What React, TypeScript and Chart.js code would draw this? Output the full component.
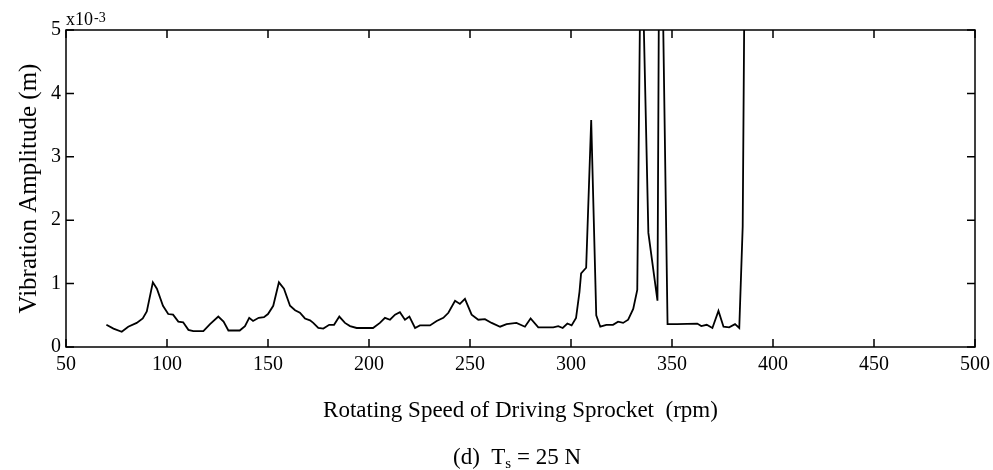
import { useEffect, useRef } from "react";
import { Chart, registerables } from "chart.js";

Chart.register(...registerables);

const FONT = '"Liberation Serif", "Times New Roman", serif';

const rpm = [
  70, 73.5, 77.6, 80.8, 85, 88, 90, 93, 95, 98, 100.6, 103, 105.6, 108, 110.6, 113, 118,
  121.3, 125.4, 128, 130.4, 136, 138.6, 140.7, 142.6, 145.4, 148, 150, 152.6, 155.4, 157.9,
  160.9, 163.4, 165.8, 168.3, 170.8, 172.4, 174.9, 177.4, 180.3, 182.7, 185.3, 188.1, 190.6,
  193.9, 202, 205.4, 207.9, 210.4, 212.9, 215.3, 217.8, 220, 222.8, 225.2, 230.2, 233.5,
  236.8, 239.3, 242.6, 245, 247.5, 250.8, 254.1, 257.4, 260.7, 264.9, 268.1, 273, 277.2, 280,
  283.8, 291.2, 293.7, 295.9, 298.2, 300.3, 302.5, 304.2, 305, 307.5, 310, 312.5, 314.5,
  317.5, 320.8, 323.3, 325.8, 328.3, 330.8, 332.8, 334.2, 335.8, 338.3, 342.8, 343.5, 345.5,
  347.8, 352.5, 362.5, 364.5, 367.2, 370, 373, 375.5, 378.3, 381.2, 383.3, 385, 385.8,
];

const amplitude = [
  0.35, 0.29, 0.24, 0.32, 0.38, 0.45, 0.56, 1.02, 0.92, 0.65, 0.52, 0.51, 0.4, 0.39, 0.27, 0.25, 0.25,
  0.36, 0.48, 0.4, 0.26, 0.26, 0.33, 0.46, 0.41, 0.46, 0.47, 0.52, 0.65, 1.02, 0.92,
  0.65, 0.58, 0.54, 0.45, 0.42, 0.38, 0.3, 0.29, 0.35, 0.35, 0.48, 0.38, 0.33,
  0.3, 0.3, 0.38, 0.46, 0.43, 0.51, 0.55, 0.43, 0.48, 0.3, 0.34, 0.34, 0.41,
  0.46, 0.54, 0.73, 0.68, 0.76, 0.51, 0.43, 0.44, 0.38, 0.32, 0.36, 0.38, 0.32, 0.45,
  0.31, 0.31, 0.33, 0.3, 0.37, 0.34, 0.46, 0.87, 1.16, 1.25, 3.58, 0.5, 0.32,
  0.35, 0.35, 0.4, 0.38, 0.43, 0.6, 0.9, 5.4, 5.4, 1.8, 0.73, 5.4, 5.4,
  0.36, 0.36, 0.37, 0.33, 0.35, 0.3, 0.57, 0.32, 0.31, 0.36, 0.3, 1.9, 5.4,
];

const xTicks = [50, 100, 150, 200, 250, 300, 350, 400, 450, 500];
const yTicks = [0, 1, 2, 3, 4, 5];

const xTitle = "Rotating Speed of Driving Sprocket  (rpm)";
const yTitle = "Vibration Amplitude (m)";
const unitBase = "x10";
const unitExp = "-3";
const captionPre = "(d)  T";
const captionSub = "s";
const captionPost = " = 25 N";

const framePlugin = {
  id: "frame",
  afterDatasetsDraw(chart: any) {
    const { ctx, chartArea, scales } = chart;
    const { left, right, top, bottom } = chartArea;
    const x = scales.x;
    const y = scales.y;
    ctx.save();
    ctx.strokeStyle = "#000";
    ctx.lineWidth = 1.5;
    ctx.strokeRect(left, top, right - left, bottom - top);
    ctx.beginPath();
    const tl = 8;
    xTicks.forEach((v) => {
      const px = x.getPixelForValue(v);
      ctx.moveTo(px, bottom);
      ctx.lineTo(px, bottom - tl);
      ctx.moveTo(px, top);
      ctx.lineTo(px, top + tl);
    });
    yTicks.forEach((v) => {
      const py = y.getPixelForValue(v);
      ctx.moveTo(left, py);
      ctx.lineTo(left + tl, py);
      ctx.moveTo(right, py);
      ctx.lineTo(right - tl, py);
    });
    ctx.stroke();

    ctx.fillStyle = "#000";
    ctx.textAlign = "left";
    ctx.textBaseline = "alphabetic";
    ctx.font = `18px ${FONT}`;
    ctx.fillText(unitBase, left, top - 5);
    const wb = ctx.measureText(unitBase).width;
    ctx.font = `14px ${FONT}`;
    ctx.fillText(unitExp, left + wb + 1, top - 8);

    // caption
    const cx = 517;
    const cy = 464;
    ctx.font = `23px ${FONT}`;
    const w1 = ctx.measureText(captionPre).width;
    const w3 = ctx.measureText(captionPost).width;
    ctx.font = `15px ${FONT}`;
    const w2 = ctx.measureText(captionSub).width;
    const total = w1 + w2 + w3;
    let sx = cx - total / 2;
    ctx.font = `23px ${FONT}`;
    ctx.fillText(captionPre, sx, cy);
    sx += w1;
    ctx.font = `15px ${FONT}`;
    ctx.fillText(captionSub, sx, cy + 4);
    sx += w2;
    ctx.font = `23px ${FONT}`;
    ctx.fillText(captionPost, sx, cy);
    ctx.restore();
  },
};

export default function App() {
  const ref = useRef<HTMLCanvasElement>(null);
  useEffect(() => {
    document.body.style.margin = "0";
    const data = rpm.map((r, i) => ({ x: r, y: amplitude[i] }));
    const chart = new Chart(ref.current!, {
      type: "line",
      data: {
        datasets: [
          {
            data,
            borderColor: "#000",
            borderWidth: 1.8,
            pointRadius: 0,
            tension: 0,
            fill: false,
            clip: 0,
          } as any,
        ],
      },
      options: {
        responsive: false,
        animation: false,
        layout: { padding: { left: 0, top: 30, right: 18, bottom: 0 } },
        plugins: { legend: { display: false }, tooltip: { enabled: false } },
        scales: {
          x: {
            type: "linear",
            min: 50,
            max: 500,
            afterBuildTicks: (s: any) => {
              s.ticks = xTicks.map((v) => ({ value: v }));
            },
            afterFit: (s: any) => {
              s.height = 123;
              s.paddingRight = 0;
              s.paddingLeft = 0;
            },
            grid: { display: false, drawTicks: false },
            border: { display: false },
            ticks: {
              color: "#000",
              font: { family: FONT, size: 20 },
              padding: 6,
              maxRotation: 0,
              autoSkip: false,
            },
            title: {
              display: true,
              text: xTitle,
              color: "#000",
              font: { family: FONT, size: 23 },
              padding: { top: 0, bottom: 45 },
            },
          },
          y: {
            min: 0,
            max: 5,
            afterBuildTicks: (s: any) => {
              s.ticks = yTicks.map((v) => ({ value: v }));
            },
            afterFit: (s: any) => {
              s.width = 66;
              s.paddingTop = 0;
              s.paddingBottom = 0;
            },
            grid: { display: false, drawTicks: false },
            border: { display: false },
            ticks: {
              color: "#000",
              font: { family: FONT, size: 20 },
              padding: 5,
            },
            title: {
              display: true,
              text: yTitle,
              color: "#000",
              font: { family: FONT, size: 25 },
              padding: { top: 14, bottom: 0 },
            },
          },
        },
      },
      plugins: [framePlugin],
    });
    return () => chart.destroy();
  }, []);
  return (
    <div style={{ position: "absolute", left: 0, top: 0, width: 993, height: 470, background: "#fff" }}>
      <canvas ref={ref} width={993} height={470} />
    </div>
  );
}
